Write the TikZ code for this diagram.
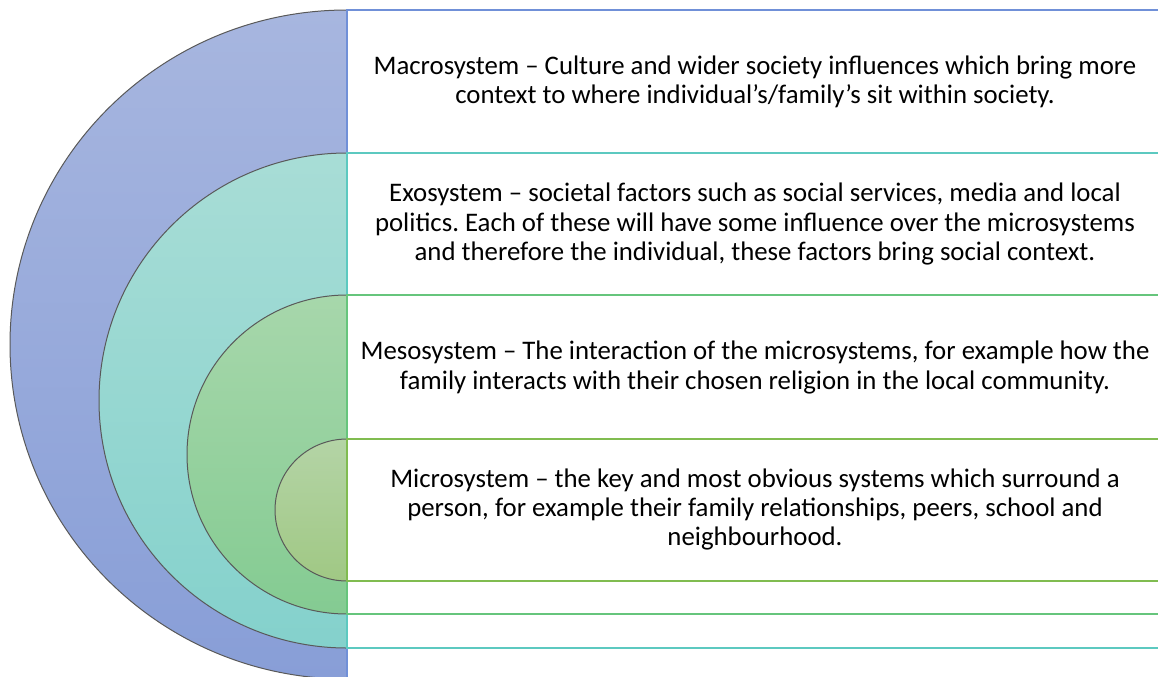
\documentclass[tikz,border=0pt]{standalone}
\usepackage{fontspec}
\setmainfont{Carlito}
\frenchspacing
\definecolor{macroA}{HTML}{A7B6DF}
\definecolor{macroB}{HTML}{889ED7}
\definecolor{macroline}{HTML}{7090D8}
\definecolor{exoA}{HTML}{A8DDD6}
\definecolor{exoB}{HTML}{84D1CC}
\definecolor{exoline}{HTML}{5CC9C0}
\definecolor{mesoA}{HTML}{A7D7AB}
\definecolor{mesoB}{HTML}{84CB92}
\definecolor{mesoline}{HTML}{66C57C}
\definecolor{microA}{HTML}{B4D4A6}
\definecolor{microB}{HTML}{A0C884}
\definecolor{microline}{HTML}{80BC50}
\tikzset{
  arcline/.style={draw=black!65,line width=0.5pt},
  txt/.style={align=center,inner sep=0pt,font=\fontsize{13.4}{14.6}\selectfont}
}
\begin{document}
\begin{tikzpicture}[x=0.5pt,y=-0.5pt]
\useasboundingbox (0,0) rectangle (1158,676);
\foreach \nm/\t/\rx/\ry in {macro/10/337/334.5,exo/153/248/247.5,meso/295/160/159.5,micro/439/72/71}{
  \shade[top color=\nm A,bottom color=\nm B] (347,\t) arc[start angle=270,end angle=90,x radius=\rx,y radius=\ry] -- cycle;
  \draw[arcline] (347,\t) arc[start angle=270,end angle=90,x radius=\rx,y radius=\ry];
  \draw[draw=\nm line,line width=0.65pt,fill=white] (1170,\t) -- (347,\t) -- (347,\t+2*\ry) -- (1170,\t+2*\ry);
}
\node[txt] (macro) at (755,81.5) {Macrosystem – Culture and wider society influences which bring more\\context to where individual’s/family’s sit within society.};
\node[txt] (exo) at (755,224) {Exosystem – societal factors such as social services, media and local\\politics. Each of these will have some influence over the microsystems\\and therefore the individual, these factors bring social context.};
\node[txt] (meso) at (755,367.5) {Mesosystem – The interaction of the microsystems, for example how the\\family interacts with their chosen religion in the local community.};
\node[txt] (micro) at (755,509.5) {Microsystem – the key and most obvious systems which surround a\\person, for example their family relationships, peers, school and\\neighbourhood.};
\end{tikzpicture}
\end{document}
